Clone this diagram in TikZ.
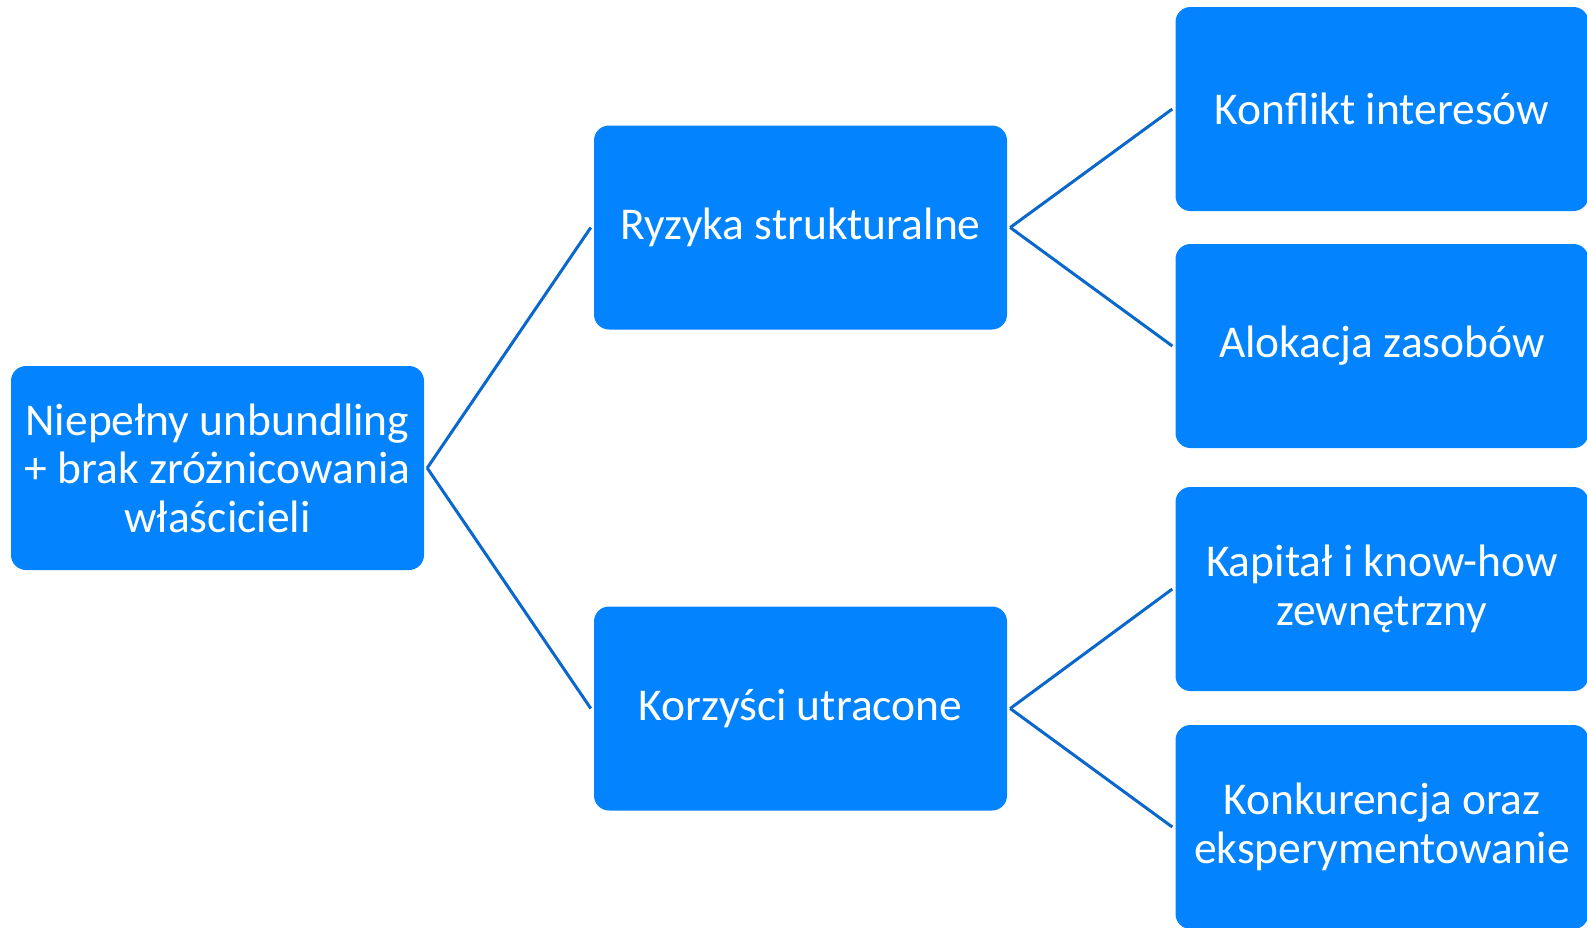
\documentclass[tikz,border=0pt]{standalone}
\usepackage{fontspec}
\setmainfont{Carlito}
\definecolor{boxblue}{HTML}{0384FE}
\definecolor{lineblue}{HTML}{0A68CC}
\begin{document}
\begin{tikzpicture}[x=1pt,y=-1pt,
  box/.style={draw=none,fill=boxblue,rounded corners=15pt,minimum width=413pt,minimum height=204pt,
    inner sep=0pt,text=white,align=center,font=\fontsize{45.5}{48.5}\selectfont},
  conn/.style={draw=lineblue,line width=3pt}]
\useasboundingbox (0,0) rectangle (1587,927);
\node[box] (root) at (217.5,468) {Niepełny unbundling\\+ brak zróżnicowania\\właścicieli};
\node[box] (m1) at (800.5,227.5) {Ryzyka strukturalne};
\node[box] (m2) at (800.5,708.5) {Korzyści utracone};
\node[box] (r1) at (1382,109) {Konflikt interesów};
\node[box] (r2) at (1382,346) {Alokacja zasobów};
\node[box] (r3) at (1382,589) {Kapitał i know-how\\zewnętrzny};
\node[box] (r4) at (1382,827) {Konkurencja oraz\\eksperymentowanie};
\draw[conn] ([xshift=3pt]root.east) -- ([xshift=-3pt]m1.west);
\draw[conn] ([xshift=3pt]root.east) -- ([xshift=-3pt]m2.west);
\draw[conn] ([xshift=3pt]m1.east) -- ([xshift=-3pt]r1.west);
\draw[conn] ([xshift=3pt]m1.east) -- ([xshift=-3pt]r2.west);
\draw[conn] ([xshift=3pt]m2.east) -- ([xshift=-3pt]r3.west);
\draw[conn] ([xshift=3pt]m2.east) -- ([xshift=-3pt]r4.west);
\end{tikzpicture}
\end{document}
